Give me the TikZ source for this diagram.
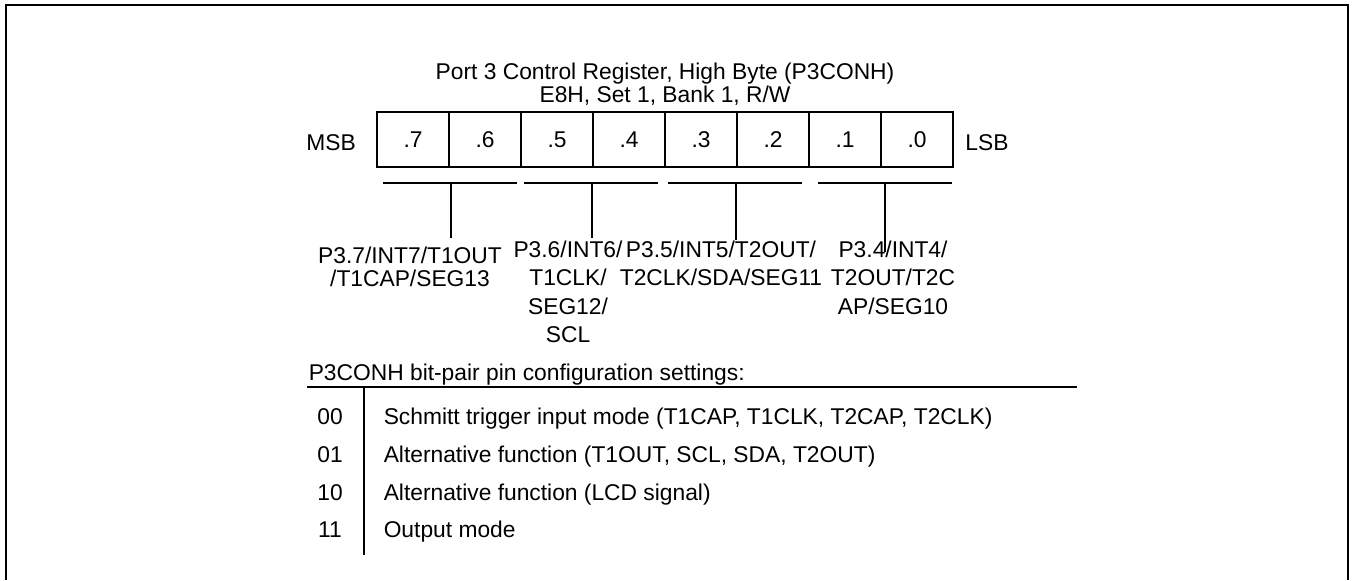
\documentclass[tikz,border=0pt]{standalone}
\usepackage{fontspec}
\setmainfont{Liberation Sans}
\usepackage{tikz}
\tikzset{
  reg sheet/.style={
    x=0.5pt,
    y=-0.5pt,
    line width=0.75pt,
    line cap=butt,
    line join=miter
  },
  reg text/.style={
    font=\fontsize{11.4}{13.5}\selectfont,
    inner sep=0pt,
    anchor=base
  },
  reg cell/.style={
    draw,
    font=\fontsize{11.4}{13.5}\selectfont,
    minimum width=36pt,
    minimum height=27.5pt,
    inner sep=0pt,
    outer sep=0pt
  },
  pin label/.style={
    font=\fontsize{11.4}{14.25}\selectfont,
    align=center,
    inner sep=0pt,
    anchor=north
  },
  pin label tight/.style={
    pin label,
    font=\fontsize{11.4}{11.5}\selectfont
  }
}

\begin{document}
\begin{tikzpicture}[reg sheet]

  \useasboundingbox (0,0) rectangle (1352,580);
  \draw[line width=1pt] (6,580) -- (6,5) -- (1348,5) -- (1348,580);

  \node[reg text,anchor=base] (title) at (665,79) {Port 3 Control Register, High Byte (P3CONH)};
  \node[reg text,anchor=base] (addr) at (665,102) {E8H, Set 1, Bank 1, R/W};

  \node[reg text] (msb) at (331,150) {MSB};
  \node[reg text] (lsb) at (987,150) {LSB};

  \node[reg cell] (b7) at (413,139.5) {.7};
  \node[reg cell] (b6) at (485,139.5) {.6};
  \node[reg cell] (b5) at (557,139.5) {.5};
  \node[reg cell] (b4) at (629,139.5) {.4};
  \node[reg cell] (b3) at (701,139.5) {.3};
  \node[reg cell] (b2) at (773,139.5) {.2};
  \node[reg cell] (b1) at (845,139.5) {.1};
  \node[reg cell] (b0) at (917,139.5) {.0};

  % bit pairs
  \draw (383,183) -- (517,183);
  \draw (524,183) -- (658,183);
  \draw (668,183) -- (802,183);
  \draw (818,183) -- (952,183);

  \coordinate (p76) at (451,183);
  \coordinate (p54) at (592,183);
  \coordinate (p32) at (736,183);
  \coordinate (p10) at (885,183);
  \coordinate (e76) at (451,238);
  \coordinate (e54) at (592,238);
  \coordinate (e32) at (736,240);
  \coordinate (e10) at (885,252);
  \draw (p76) -- (e76);
  \draw (p54) -- (e54);
  \draw (p32) -- (e32);
  \draw (p10) -- (e10);

  \node[pin label tight] (pin7) at (410,246) {P3.7/INT7/T1OUT\\/T1CAP/SEG13};
  \node[pin label] (pin6) at (568,240) {P3.6/INT6/\\T1CLK/\\SEG12/\\SCL};
  \node[pin label] (pin5) at (721,240) {P3.5/INT5/T2OUT/\\T2CLK/SDA/SEG11};
  \node[pin label] (pin4) at (893,240) {P3.4/INT4/\\T2OUT/T2C\\AP/SEG10};

  % settings table
  \node[reg text,anchor=base west] (hdr) at (308,380) {P3CONH bit-pair pin configuration settings:};
  \coordinate (rl) at (307,387);
  \coordinate (rr) at (1077,387);
  \draw (rl) -- (rr);
  \coordinate (vt) at (364,387);
  \coordinate (vb) at (364,555);
  \draw (vt) -- (vb);

  \node[reg text] (c00) at (330,424) {00};
  \node[reg text] (c01) at (330,462) {01};
  \node[reg text] (c10) at (330,500) {10};
  \node[reg text] (c11) at (330,537) {11};

  \node[reg text,anchor=base west] (m00) at (383,424) {Schmitt trigger input mode (T1CAP, T1CLK, T2CAP, T2CLK)};
  \node[reg text,anchor=base west] (m01) at (383,462) {Alternative function (T1OUT, SCL, SDA, T2OUT)};
  \node[reg text,anchor=base west] (m10) at (383,500) {Alternative function (LCD signal)};
  \node[reg text,anchor=base west] (m11) at (383,537) {Output mode};

\end{tikzpicture}
\end{document}
